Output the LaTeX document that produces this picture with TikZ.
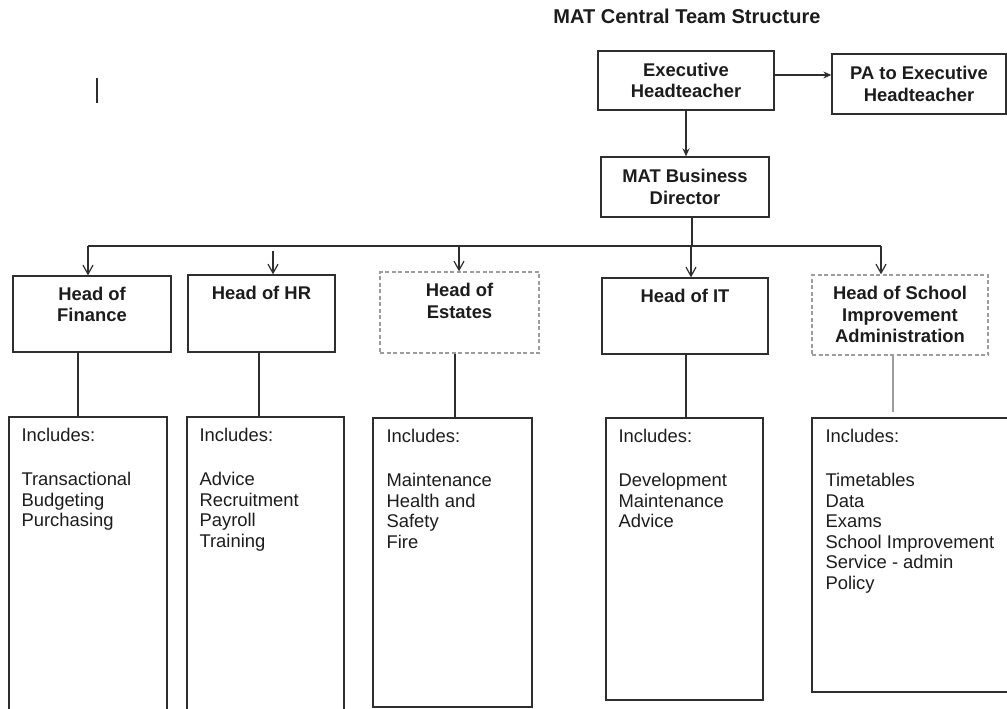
\documentclass[tikz,border=0pt]{standalone}
\usepackage{fontspec}
\setmainfont{Liberation Sans}
\usetikzlibrary{positioning,arrows.meta}

\definecolor{linegray}{HTML}{2E2E2E}
\definecolor{dashgray}{HTML}{9C9C9C}
\definecolor{textgray}{HTML}{1C1C1C}

\tikzset{
    orgbox/.style={draw=linegray, line width=1.3pt, inner sep=0pt},
    dashbox/.style={draw=dashgray, line width=1.3pt, dash pattern=on 4pt off 2.5pt, inner sep=0pt},
    headtxt/.style={font=\fontsize{18.4}{21.5}\selectfont\bfseries, text=textgray, align=center, inner sep=0pt},
    incltxt/.style={font=\fontsize{18.4}{20.5}\selectfont, text=textgray, align=left, inner sep=0pt},
    link/.style={draw=linegray, line width=1.2pt},
    solidarrow/.style={link, -{Stealth[length=8pt,width=7pt]}},
    barbarrow/.style={link, -{Straight Barb[length=9pt,width=10pt]}}
}

\begin{document}
\begin{tikzpicture}[x=1pt, y=-1pt]
    \useasboundingbox (0,0) rectangle (1007,709);

    % Title
    \node[headtxt, font=\fontsize{20}{24}\selectfont\bfseries] (title) at (687,16) {MAT Central Team Structure};

    % stray mark on the left
    \draw[line width=1.6pt, linegray] (97,78) -- (97,103);

    % Top of the structure
    \node[orgbox, headtxt, minimum width=176pt, minimum height=59pt] (exec) at (686,80.5) {Executive\\Headteacher};
    \node[orgbox, headtxt, minimum width=174pt, minimum height=60pt] (pa) at (919,84) {PA to Executive\\Headteacher};
    \node[orgbox, headtxt, minimum width=168pt, minimum height=60pt] (mbd) at (685,187) {MAT Business\\Director};

    \draw[solidarrow] ([yshift=5.5pt]exec.east) -- ([yshift=5.5pt]exec.east -| pa.west);
    \draw[solidarrow] (exec.south) -- (exec.south |- mbd.north);

    % Heads (box, then title at the top of it)
    \node[orgbox, minimum width=158pt, minimum height=76pt] (fin) at (92,314) {};
    \node[orgbox, minimum width=147pt, minimum height=77pt] (hr) at (261.5,313.5) {};
    \node[dashbox, minimum width=159pt, minimum height=81pt] (est) at (459.5,312.5) {};
    \node[orgbox, minimum width=166pt, minimum height=76pt] (it) at (685,316) {};
    \node[dashbox, minimum width=176pt, minimum height=80pt] (sia) at (900,315) {};

    \node[headtxt, below=11.5pt of fin.north] (finT) {Head of\\Finance};
    \node[headtxt, below=11.5pt of hr.north] (hrT) {Head of HR};
    \node[headtxt, below=12pt of est.north] (estT) {Head of\\Estates};
    \node[headtxt, below=11.5pt of it.north] (itT) {Head of IT};
    \node[headtxt, below=12pt of sia.north] (siaT) {Head of School\\Improvement\\Administration};

    % Bus from the business director
    \coordinate (bus) at (0,246);
    \draw[link] ([xshift=7pt]mbd.south) -- ([xshift=7pt]mbd.south |- bus);
    \draw[link] ([xshift=-4pt]fin.north |- bus) -- ([xshift=-19pt]sia.north |- bus);
    \foreach \n/\dx in {fin/-4, est/-0.5, it/6, sia/-19} {
        \draw[barbarrow] ([xshift=\dx pt]\n.north |- bus) -- ([xshift=\dx pt]\n.north);
    }
    \draw[barbarrow] ([xshift=11.5pt, yshift=-5pt]hr.north |- bus) -- ([xshift=11.5pt]hr.north);

    % Includes boxes
    \node[orgbox, minimum width=158pt, minimum height=295pt] (finI) at (88,564.5) {};
    \node[orgbox, minimum width=157pt, minimum height=295pt] (hrI) at (265.5,564.5) {};
    \node[orgbox, minimum width=159pt, minimum height=289pt] (estI) at (452.5,562.5) {};
    \node[orgbox, minimum width=157pt, minimum height=282pt] (itI) at (684.5,559) {};
    \node[orgbox, minimum width=200pt, minimum height=274pt] (siaI) at (912,555) {};

    \node[incltxt, below right=11.5pt and 13pt of finI.north west] (finL) {Includes:\\[24pt]Transactional\\Budgeting\\Purchasing};
    \node[incltxt, below right=11.5pt and 13pt of hrI.north west] (hrL) {Includes:\\[24pt]Advice\\Recruitment\\Payroll\\Training};
    \node[incltxt, below right=11.5pt and 14pt of estI.north west] (estL) {Includes:\\[24pt]Maintenance\\Health and\\Safety\\Fire};
    \node[incltxt, below right=11.5pt and 13pt of itI.north west] (itL) {Includes:\\[24pt]Development\\Maintenance\\Advice};
    \node[incltxt, below right=11.5pt and 14pt of siaI.north west] (siaL) {Includes:\\[24pt]Timetables\\Data\\Exams\\School Improvement\\Service - admin\\Policy};

    % Links from heads down to their boxes
    \draw[link] ([xshift=-14pt]fin.south) -- ([xshift=-14pt]fin.south |- finI.north);
    \draw[link] ([xshift=-2.5pt]hr.south) -- ([xshift=-2.5pt]hr.south |- hrI.north);
    \draw[link] ([xshift=-4.5pt]est.south) -- ([xshift=-4.5pt]est.south |- estI.north);
    \draw[link] ([xshift=1pt]it.south) -- ([xshift=1pt]it.south |- itI.north);
    \draw[link, draw=dashgray] ([xshift=-7pt]sia.south) -- ([xshift=-7pt]sia.south |- 0,412);
\end{tikzpicture}
\end{document}
